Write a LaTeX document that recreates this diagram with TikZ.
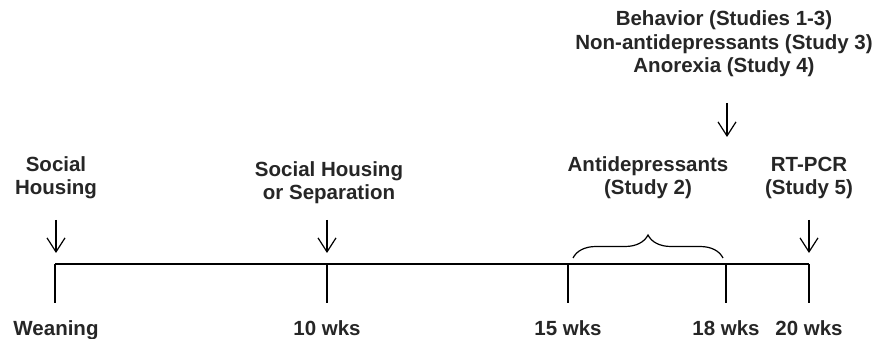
\documentclass[tikz,border=0pt]{standalone}
\usepackage{fontspec}
\setmainfont{Liberation Sans}
\usetikzlibrary{arrows.meta,decorations.pathreplacing,positioning}
\tikzset{%
  lbl/.style={font=\bfseries\fontsize{20.5}{23.5}\selectfont, text=black!85,
    inner sep=0pt, align=center, anchor=base},
  downarrow/.style={-{Straight Barb[length=14pt,width=18pt]}, line width=1.2pt},
  timeline/.style={line width=1.3pt},
  studybrace/.style={decorate, decoration={brace,amplitude=23pt}, line width=1.2pt}
}

\begin{document}
\begin{tikzpicture}[x=1pt,y=-1pt]
\useasboundingbox (0,0) rectangle (876,339);

\coordinate (wNode) at (55,264);   \coordinate (wtNode) at (55,303);
\coordinate (tenNode) at (327,264); \coordinate (tentNode) at (327,303);
\coordinate (ftNode) at (568,264); \coordinate (fttNode) at (568,303);
\coordinate (etNode) at (726,264); \coordinate (ettNode) at (726,303);
\coordinate (twNode) at (809,264); \coordinate (twtNode) at (809,303);

\coordinate (waNode) at (56,220);   \coordinate (wbNode) at (56,253);
\coordinate (tenaNode) at (327,220); \coordinate (tenbNode) at (327,253);
\coordinate (twaNode) at (809,220); \coordinate (twbNode) at (809,253);
\coordinate (beaNode) at (727,103); \coordinate (bebNode) at (727,137);
\coordinate (bsNode) at (573,258); \coordinate (bfNode) at (723,258);

\node[lbl] (wLabel) at (56,335) {Weaning};
\node[lbl] (tenLabel) at (327,335) {10 wks};
\node[lbl] (ftLabel) at (568,335) {15 wks};
\node[lbl] (etLabel) at (726,335) {18 wks};
\node[lbl] (twLabel) at (809,335) {20 wks};

% base anchor sits on the last line
\node[lbl] (shLabel) at (56,195) {Social\\Housing};
\node[lbl] (sepLabel) at (329,200) {Social Housing\\or Separation};
\node[lbl] (adLabel) at (648,195) {Antidepressants\\(Study 2)};
\node[lbl] (pcrLabel) at (809,195) {RT-PCR\\(Study 5)};
\node[lbl] (behLabel) at (724,73) {Behavior (Studies 1-3)\\Non-antidepressants (Study 3)\\Anorexia (Study 4)};

\draw[timeline] (wNode) -- (twNode);
\draw[timeline] (wNode) -- (wtNode);
\draw[timeline] (tenNode) -- (tentNode);
\draw[timeline] (ftNode) -- (fttNode);
\draw[timeline] (etNode) -- (ettNode);
\draw[timeline] (twNode) -- (twtNode);

\draw[downarrow] (waNode) -- (wbNode);
\draw[downarrow] (tenaNode) -- (tenbNode);
\draw[downarrow] (twaNode) -- (twbNode);
\draw[downarrow] (beaNode) -- (bebNode);

\draw[studybrace] (bsNode) -- (bfNode);
\end{tikzpicture}
\end{document}
